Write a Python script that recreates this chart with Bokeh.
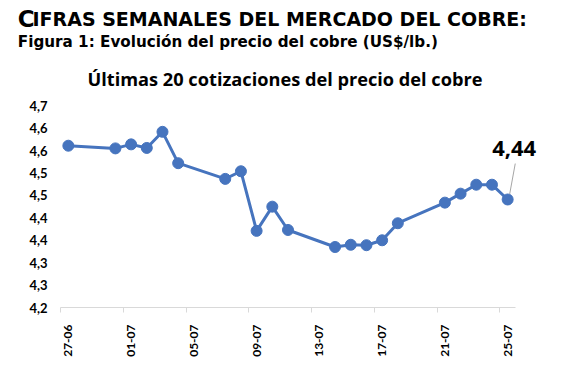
import numpy as np
import pandas as pd
from math import pi
from bokeh.plotting import figure
from bokeh.models import (FixedTicker, DatetimeTickFormatter, CustomJSTickFormatter,
                          Label, Range1d, ColumnDataSource, Title)
from bokeh.embed import file_html
from bokeh.resources import INLINE

# ---------------- data ----------------
dates = ["2025-06-27", "2025-06-30", "2025-07-01", "2025-07-02", "2025-07-03",
         "2025-07-04", "2025-07-07", "2025-07-08", "2025-07-09", "2025-07-10",
         "2025-07-11", "2025-07-14", "2025-07-15", "2025-07-16", "2025-07-17",
         "2025-07-18", "2025-07-21", "2025-07-22", "2025-07-23", "2025-07-24",
         "2025-07-25"]
prices = [4.561, 4.555, 4.564, 4.556, 4.592,
          4.522, 4.487, 4.504, 4.371, 4.425,
          4.373, 4.335, 4.340, 4.339, 4.350,
          4.388, 4.434, 4.454, 4.474, 4.474,
          4.441]
tick_dates = ["2025-06-27", "2025-07-01", "2025-07-05", "2025-07-09",
              "2025-07-13", "2025-07-17", "2025-07-21", "2025-07-25"]
y_ticks = [4.20, 4.25, 4.30, 4.35, 4.40, 4.45, 4.50, 4.55, 4.60, 4.65]
y_min, y_max = 4.20, 4.65

header_cap = "C"
header_rest = "IFRAS SEMANALES DEL MERCADO DEL COBRE:"
subtitle = "Figura 1: Evolución del precio del cobre (US$/lb.)"
chart_title = "Últimas 20 cotizaciones del precio del cobre"

AX_FONT = "Lato"
HEAD_FONT = "DejaVu Sans"
TXT_FONT = "Open Sans"
BLUE = "#4674BE"
GRAY = "#d9d9d9"
W, H = 551, 359
LEFT, FRAME_TOP, BOTTOM, AXIS_RIGHT = 60, 52, 44, 515
Y_TOP_PX, Y_BOT_PX = 107, 315      # pixel rows of y_max / y_min

# ---------------- scales ----------------
x = pd.to_datetime(dates)
day_ms = 86400000.0
x_ms = np.array([t.value / 1e6 for t in x])
xt_ms = [pd.Timestamp(t).value / 1e6 for t in tick_dates]

x_start = x_ms[0] - 0.5 * day_ms
x_axis_end = x_ms[-1] + 0.5 * day_ms
px_per_ms = (AXIS_RIGHT - LEFT) / (x_axis_end - x_start)
x_end = x_axis_end + (W - AXIS_RIGHT) / px_per_ms

px_per_unit = (Y_BOT_PX - Y_TOP_PX) / (y_max - y_min)
y_top = y_max + (Y_TOP_PX - FRAME_TOP) / px_per_unit

p = figure(width=W, height=H, x_axis_type="datetime",
           x_range=Range1d(x_start, x_end),
           y_range=Range1d(y_min, y_top),
           output_backend="svg", toolbar_location=None,
           min_border_left=LEFT, min_border_right=0,
           min_border_top=FRAME_TOP, min_border_bottom=BOTTOM)
p.outline_line_color = None
p.xgrid.visible = False
p.ygrid.visible = False
p.background_fill_color = "white"
p.border_fill_color = "white"


# ---------------- titles above the frame ----------------
def style(t, size, font=HEAD_FONT):
    t.text_font = font
    t.text_font_style = "bold"
    t.text_font_size = size
    t.text_color = "black"
    t.align = "left"
    t.vertical_align = "bottom"


# nearest to the frame first
sub = Title(text=subtitle, offset=17.3 - LEFT, standoff=2.6)
style(sub, "15.2px")
p.add_layout(sub, "above")

try:
    rest = Title(text=header_rest, offset=32 - LEFT, standoff=-0.6)
    style(rest, "19px")
    p.add_layout(rest, "above")
    cap_title = Title(text=header_cap, offset=17.3 - LEFT, standoff=-50)
    style(cap_title, "23px")
    p.title = cap_title
except Exception:
    p.title.text = header_cap + header_rest
    p.title.offset = 17.3 - LEFT
    p.title.standoff = 0
    style(p.title, "19px")

# chart title inside the frame (screen units relative to frame bottom-left)
p.add_layout(Label(x=284.5 - LEFT, y=Y_BOT_PX - 86, x_units="screen", y_units="screen",
                   text=chart_title, text_font=TXT_FONT, text_font_style="bold",
                   text_font_size="18.2px", text_align="center",
                   text_baseline="alphabetic", text_color="black"))

# ---------------- series ----------------
src = ColumnDataSource(dict(x=x_ms, y=prices))
p.line("x", "y", source=src, line_color=BLUE, line_width=3)
p.scatter("x", "y", source=src, size=11, fill_color=BLUE, line_color=BLUE)

# x axis
xa = p.xaxis[0]
xa.bounds = (x_start, x_axis_end)
xa.ticker = FixedTicker(ticks=xt_ms, minor_ticks=[t - 0.5 * day_ms for t in xt_ms])
xa.formatter = DatetimeTickFormatter(days="%d-%m", months="%d-%m", hours="%d-%m",
                                     years="%d-%m", context=None)
xa.major_label_orientation = pi / 2
xa.axis_line_color = GRAY
xa.major_tick_line_color = None
xa.major_tick_out = 0
xa.major_tick_in = 0
xa.minor_tick_line_color = GRAY
xa.minor_tick_out = 5
xa.minor_tick_in = 0
xa.major_label_standoff = 12
xa.major_label_text_font = AX_FONT
xa.major_label_text_font_style = "bold"
xa.major_label_text_font_size = "12px"
xa.major_label_text_color = "black"

# y axis
ya = p.yaxis[0]
ya.ticker = FixedTicker(ticks=y_ticks)
ya.formatter = CustomJSTickFormatter(code="""
    const v = Math.floor(tick * 10 + 0.5 + 1e-6) / 10;
    return v.toFixed(1).replace('.', ',');
""")
ya.axis_line_color = None
ya.major_tick_line_color = None
ya.minor_tick_line_color = None
ya.major_tick_out = 0
ya.major_label_standoff = 13
ya.major_label_text_font = AX_FONT
ya.major_label_text_font_style = "bold"
ya.major_label_text_font_size = "13px"
ya.major_label_text_color = "black"

# last value annotation
last_x, last_y = x_ms[-1], prices[-1]
p.segment(x0=[last_x + 0.13 * day_ms], y0=[last_y + 0.0123],
          x1=[last_x + 0.485 * day_ms], y1=[last_y + 0.0802],
          line_color="#a6a6a6", line_width=1)
p.add_layout(Label(x=last_x, y=last_y, x_offset=6.5, y_offset=50.7,
                   text=f"{last_y:.2f}".replace(".", ","),
                   text_font=TXT_FONT, text_font_style="bold", text_font_size="22px",
                   text_align="center", text_baseline="alphabetic",
                   text_color="black"))

open("out.html", "w").write(file_html(p, INLINE))
